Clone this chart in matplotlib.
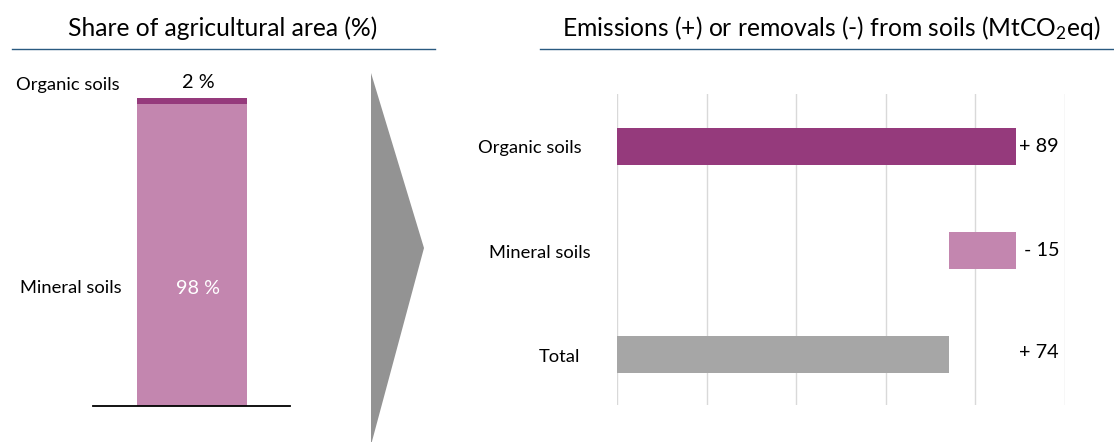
import matplotlib
matplotlib.use("Agg")
import matplotlib.pyplot as plt
from matplotlib.patches import Polygon
from matplotlib.lines import Line2D

# ---------------- data ----------------
share_categories = ["Mineral soils", "Organic soils"]
share_values = [98, 2]
share_labels = ["98 %", "2 %"]

emis_categories = ["Organic soils", "Mineral soils", "Total"]
emis_values = [89, -15, 74]
emis_labels = ["+ 89", "- 15", "+ 74"]

left_title = "Share of agricultural area (%)"
right_title = "Emissions (+) or removals (-) from soils (MtCO$_2$eq)"

# ---------------- style ----------------
FONT = "Lato"
plt.rcParams["font.family"] = [FONT, "DejaVu Sans"]
plt.rcParams["mathtext.fontset"] = "custom"
plt.rcParams["mathtext.rm"] = FONT
plt.rcParams["mathtext.it"] = FONT
plt.rcParams["mathtext.default"] = "rm"

C_ORG = "#953a7c"
C_MIN = "#c386af"
C_TOT = "#a6a6a6"
C_ARROW = "#939393"
C_LINE = "#2a5a80"
C_GRID = "#d9d9d9"

FS_TITLE = 17.7
FS_CAT = 13.2
FS_VAL = 14.3

W, H = 1114, 442
fig = plt.figure(figsize=(W / 100, H / 100), dpi=100)


def fx(px):
    return px / W


def fy(py):
    return 1 - py / H


# ---------------- left panel ----------------
axL = fig.add_axes([fx(93), fy(406), fx(290) - fx(93), fy(98) - fy(406)])
bottom = 0
colors_left = [C_MIN, C_ORG]
for cat, val, col in zip(share_categories, share_values, colors_left):
    axL.bar(0, val, bottom=bottom, width=1.0, color=col, linewidth=0)
    bottom += val
axL.set_xlim(-0.9, 0.891)
axL.set_ylim(0, 100)
for s in ["top", "left", "right"]:
    axL.spines[s].set_visible(False)
axL.spines["bottom"].set_color("black")
axL.spines["bottom"].set_linewidth(1.3)
axL.set_xticks([])
axL.set_yticks([])
axL.patch.set_alpha(0)

# value labels
axL.annotate(share_labels[0], xy=(0, share_values[0] * 0.39), xytext=(6, 0),
             textcoords="offset pixels", ha="center", va="center",
             color="white", fontsize=FS_VAL)
axL.annotate(share_labels[1], xy=(0, 100), xytext=(6, 16), textcoords="offset pixels",
             ha="center", va="center", fontsize=FS_VAL, color="black")
# category labels
fig.text(fx(16), fy(85), share_categories[1], ha="left", va="center", fontsize=FS_CAT)
fig.text(fx(20), fy(288), share_categories[0], ha="left", va="center", fontsize=FS_CAT)

# title + rule
fig.text(fx(223), fy(28), left_title, ha="center", va="center", fontsize=FS_TITLE)
fig.add_artist(Line2D([fx(12), fx(435)], [fy(49), fy(49)], color=C_LINE, lw=1.0))

# ---------------- arrow ----------------
fig.add_artist(Polygon([(fx(371), fy(73)), (fx(424), fy(248)), (fx(371), fy(445))],
                       closed=True, facecolor=C_ARROW, edgecolor="none",
                       transform=fig.transFigure))

# ---------------- right panel ----------------
axR = fig.add_axes([fx(617), fy(405), fx(1065) - fx(617), fy(94) - fy(405)])
ypos = list(range(len(emis_categories)))
# waterfall: organic from 0, mineral from organic end going down, total from 0
starts = [0, emis_values[0] + emis_values[1], 0]
widths = [emis_values[0], -emis_values[1], emis_values[2]]
colors_right = [C_ORG, C_MIN, C_TOT]
axR.barh(ypos, widths, left=starts, height=0.355, color=colors_right, linewidth=0, zorder=3)
axR.set_xlim(0, 100)
axR.set_ylim(2.48, -0.5)
axR.set_xticks(range(0, 101, 20))
axR.xaxis.grid(True, color=C_GRID, lw=1.0, zorder=0)
axR.tick_params(axis="x", length=0, labelbottom=False)
axR.set_yticks([])
for s in axR.spines.values():
    s.set_visible(False)

val_dy = [0, 0, 2]
for y, lab, dy in zip(ypos, emis_labels, val_dy):
    axR.annotate(lab, xy=(100, y), xytext=(-6, dy), textcoords="offset pixels",
                 ha="right", va="center", fontsize=FS_VAL)

# category labels (left of bars)
label_right_px = [582, 591, 580]
for y, cat, rx in zip(ypos, emis_categories, label_right_px):
    axR.annotate(cat, xy=(0, y), xytext=(-(617 - rx), -2), textcoords="offset pixels",
                 ha="right", va="center", fontsize=FS_CAT)

fig.text(fx(831), fy(28), right_title, ha="center", va="center", fontsize=FS_TITLE)
fig.add_artist(Line2D([fx(540), fx(1114)], [fy(49), fy(49)], color=C_LINE, lw=1.0))

fig.savefig("out.png", dpi=100)
